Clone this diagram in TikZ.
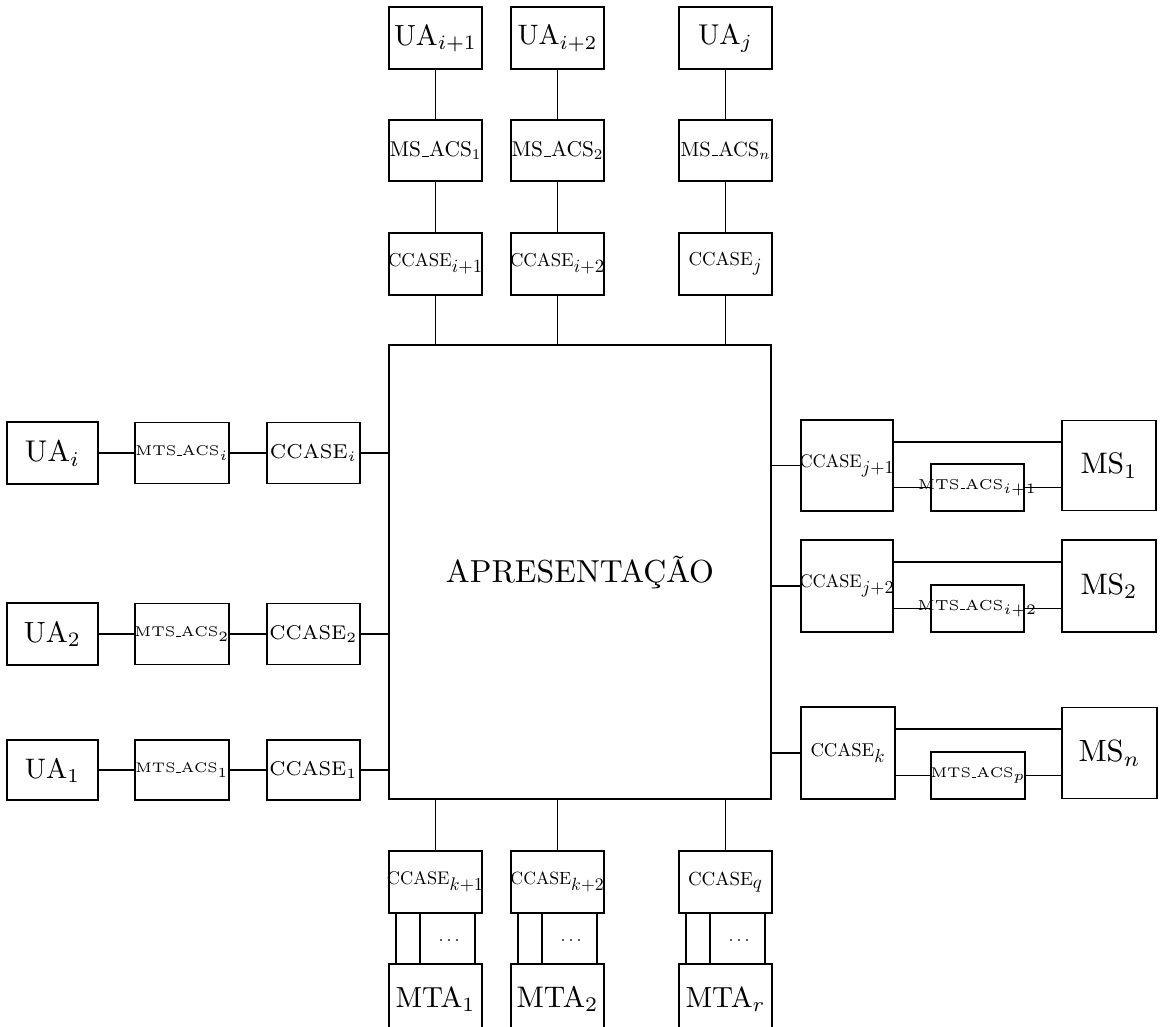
\documentclass[tikz,border=0pt]{standalone}
\usepackage{graphicx}
\usetikzlibrary{calc}
\newdimen\px \px=0.75pt
\newcommand{\lb}[3]{\makebox[0pt]{\resizebox{#1\px}{!}{#2#3}}}
\newcommand{\us}{\kern.06em\vbox{\hrule width .3em}\kern.02em}
\newcommand{\cc}[1]{CCASE$_{\textstyle #1}$}
\tikzset{
  bx/.style args={#1/#2}{draw, line width=1.35pt, inner sep=0pt,
    minimum width=#1*0.75pt, minimum height=#2*0.75pt},
  ln/.style={line width=1.35pt}
}
\begin{document}
\begin{tikzpicture}[x=0.75pt,y=-0.75pt]
\useasboundingbox (0,0) rectangle (1164,1026);
% central block
\node[bx=382/454] (big) at (580,572) {\lb{268}{\normalsize}{APRESENTAÇÃO}};
% top columns
\node[bx=93/62] (uaip1) at (435.5,38) {\lb{83}{\normalsize}{UA$_{i+1}$}};
\node[bx=93/62] (uaip2) at (557.5,38) {\lb{80}{\normalsize}{UA$_{i+2}$}};
\node[bx=93/62] (uaj) at (725.5,38) {\lb{55}{\normalsize}{UA$_{j}$}};
\node[bx=93/61] (msa1) at (435.5,150.5) {\lb{92}{\normalsize}{MS\us ACS$_1$}};
\node[bx=93/61] (msa2) at (557.5,150.5) {\lb{92}{\normalsize}{MS\us ACS$_2$}};
\node[bx=93/61] (msan) at (725.5,150.5) {\lb{90}{\normalsize}{MS\us ACS$_n$}};
\node[bx=93/62] (ccip1) at (435.5,264) {\lb{95}{\normalsize}{\cc{i{+}1}}};
\node[bx=93/62] (ccip2) at (557.5,264) {\lb{95}{\normalsize}{\cc{i{+}2}}};
\node[bx=93/62] (ccj) at (725.5,264) {\lb{74}{\normalsize}{\cc{j}}};
\foreach \a/\b/\c in {uaip1/msa1/ccip1, uaip2/msa2/ccip2, uaj/msan/ccj}{
  \draw[ln] (\a) -- (\b);
  \draw[ln] (\b) -- (\c);
  \draw[ln] (\c.south) -- (\c.south |- big.north);
}
% left rows
\node[bx=91/62] (uai) at (52.5,453) {\lb{55}{\normalsize}{UA$_{i}$}};
\node[bx=94/61] (mtsi) at (182,453) {\lb{93}{\tiny}{MTS\us ACS$_{i}$}};
\node[bx=93/61] (cci) at (313.5,453) {\lb{87}{\scriptsize}{CCASE$_{i}$}};
\node[bx=91/62] (ua2) at (52.5,634) {\lb{57}{\normalsize}{UA$_{2}$}};
\node[bx=94/61] (mts2) at (182,634) {\lb{95}{\tiny}{MTS\us ACS$_{2}$}};
\node[bx=93/61] (cc2) at (313.5,634) {\lb{88}{\scriptsize}{CCASE$_{2}$}};
\node[bx=91/60] (ua1) at (52.5,770) {\lb{55}{\normalsize}{UA$_{1}$}};
\node[bx=94/60] (mts1) at (182,770) {\lb{93}{\tiny}{MTS\us ACS$_{1}$}};
\node[bx=93/60] (cc1) at (313.5,770) {\lb{88}{\scriptsize}{CCASE$_{1}$}};
\foreach \a/\b/\c in {uai/mtsi/cci, ua2/mts2/cc2, ua1/mts1/cc1}{
  \draw[ln] (\a.east) -- (\b.west);
  \draw[ln] (\b.east) -- (\c.west);
  \draw[ln] (\c.east) -- (\c.east -| big.west);
}
% right rows
\node[bx=92/91] (ccj1) at (847,465.5) {\lb{95}{\normalsize}{\cc{j{+}1}}};
\node[bx=93/47] (mtr1) at (977.5,487.5) {\lb{119}{\tiny}{MTS\us ACS$_{i+1}$}};
\node[bx=94/90] (ms1) at (1109,465.5) {\lb{57}{\normalsize}{MS$_{1}$}};
\node[bx=92/92] (ccj2) at (847,586) {\lb{95}{\normalsize}{\cc{j{+}2}}};
\node[bx=93/47] (mtr2) at (977.5,608.5) {\lb{120}{\tiny}{MTS\us ACS$_{i+2}$}};
\node[bx=94/92] (ms2) at (1109,586) {\lb{57}{\normalsize}{MS$_{2}$}};
\node[bx=94/92] (cck) at (848,753) {\lb{75}{\normalsize}{\cc{k}}};
\node[bx=94/47] (mtrp) at (978,775.5) {\lb{95}{\tiny}{MTS\us ACS$_{p}$}};
\node[bx=95/91] (msn) at (1109.5,753) {\lb{62}{\normalsize}{MS$_{n}$}};
\foreach \c/\m/\s/\u in {ccj1/mtr1/ms1/ua, ccj2/mtr2/ms2/ub, cck/mtrp/msn/uc}{
  \draw[ln] (\c.west -| big.east) -- (\c.west);
  \coordinate (\u) at ($(\c.north east)+(0,23)$);
  \draw[ln] (\u) -- (\u -| \s.west);
  \draw[ln] (\m.west -| \c.east) -- (\m.west);
  \draw[ln] (\m.east) -- (\m.east -| \s.west);
}
% bottom columns
\node[bx=93/62] (cck1) at (435.5,882) {\lb{97}{\normalsize}{\cc{k{+}1}}};
\node[bx=93/62] (cck2) at (557.5,882) {\lb{94}{\normalsize}{\cc{k{+}2}}};
\node[bx=93/62] (ccq) at (725.5,882) {\lb{75}{\normalsize}{\cc{q}}};
\node[bx=93/70] (mta1) at (435.5,999) {\lb{80}{\normalsize}{MTA$_{1}$}};
\node[bx=93/70] (mta2) at (557.5,999) {\lb{82}{\normalsize}{MTA$_{2}$}};
\node[bx=93/70] (mtar) at (725.5,999) {\lb{80}{\normalsize}{MTA$_{r}$}};
\foreach \c/\m/\d in {cck1/mta1/da, cck2/mta2/db, ccq/mtar/dc}{
  \draw[ln] (\c.north |- big.south) -- (\c.north);
  \foreach \dx/\k in {8/p, 32/q}{
    \coordinate (\d\k) at ($(\c.south west)+(\dx,0)$);
    \draw[ln] (\d\k) -- (\d\k |- \m.north);
  }
  \coordinate (\d r) at ($(\c.south east)+(-8,0)$);
  \draw[ln] (\d r) -- (\d r |- \m.north);
  \node[inner sep=0pt] (\d) at ($(\c.south west)+(61,27)$) {\lb{21}{\normalsize}{$\dots$}};
}
\end{tikzpicture}
\end{document}
